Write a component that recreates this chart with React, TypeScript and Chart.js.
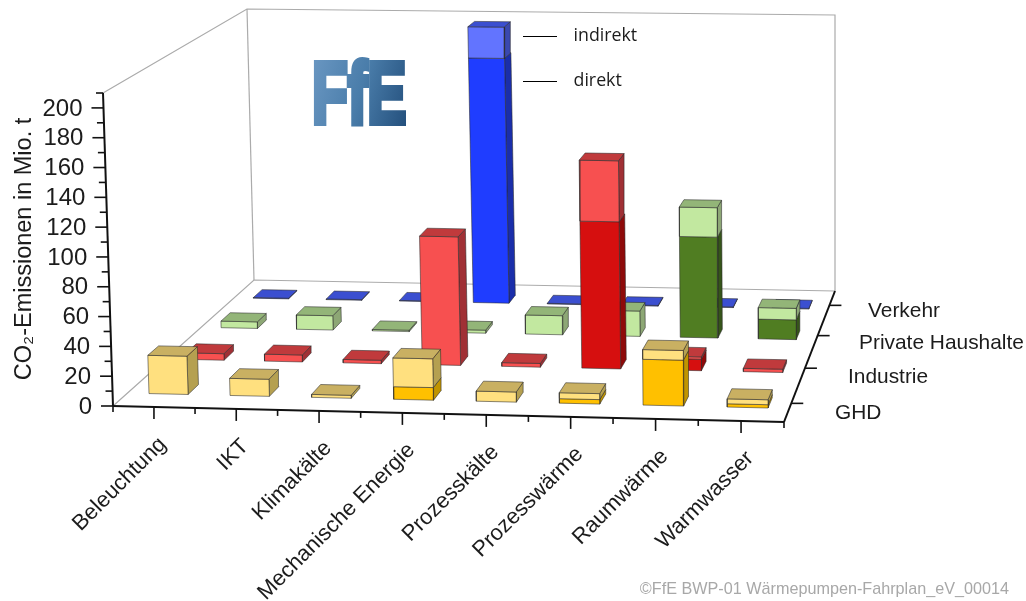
import React, { useEffect, useRef } from "react";
import { Chart, registerables } from "chart.js";

Chart.register(...registerables);

const categories = ["Beleuchtung", "IKT", "Klimakälte", "Mechanische Energie", "Prozesskälte", "Prozesswärme", "Raumwärme", "Warmwasser"];
const sectors = ["GHD", "Industrie", "Private Haushalte", "Verkehr"];
const valueTicks = [0, 20, 40, 60, 80, 100, 120, 140, 160, 180, 200];
const minorTicks = [10, 30, 50, 70, 90, 110, 130, 150, 170, 190, 210];

const ghdDirekt = [0, 0, 0, 8.5, 0, 3, 30.7, 2.2];
const ghdIndirekt = [26, 11.6, 2, 19.4, 6.8, 4, 6.5, 3.3];
const industrieDirekt = [0, 0, 0, 0, 0, 102.5, 8, 0];
const industrieIndirekt = [4.6, 4.9, 2.4, 90, 2.6, 42.5, 1.6, 2.3];
const haushalteDirekt = [0, 0, 0, 0, 0, 0, 72.7, 14.2];
const haushalteIndirekt = [4.8, 10.4, 1, 2.2, 13.8, 18.3, 21.2, 8.3];
const verkehrDirekt = [0, 0, 0, 184, 0, 0, 0, 0];
const verkehrIndirekt = [0.5, 0.5, 0.5, 23.5, 0.5, 0.5, 0.5, 0.5];

const direkt = [ghdDirekt, industrieDirekt, haushalteDirekt, verkehrDirekt];
const indirekt = [ghdIndirekt, industrieIndirekt, haushalteIndirekt, verkehrIndirekt];

const W = 1026;
const H = 601;
const UNIT = 1.4905; // canvas px per value unit on the front-left edge
const ZERO = 406;
const dv = (py: number) => (ZERO - py) / UNIT;
const YMIN = dv(H);
const YMAX = dv(0);
const AXIS_TOP = 210;

type P = { x: number; y: number };
const floorC: P[] = [{ x: 113, y: dv(406) }, { x: 784, y: dv(422) }, { x: 835, y: dv(291) }, { x: 254, y: dv(280) }];
const topC: P[] = [{ x: 103, y: dv(93) }, { x: 785, y: dv(103) }, { x: 835, y: dv(15) }, { x: 247, y: dv(9) }];

function quad(c: P[]) {
  const [p0, p1, p2, p3] = c;
  const dx1 = p1.x - p2.x, dx2 = p3.x - p2.x, sx = p0.x - p1.x + p2.x - p3.x;
  const dy1 = p1.y - p2.y, dy2 = p3.y - p2.y, sy = p0.y - p1.y + p2.y - p3.y;
  const det = dx1 * dy2 - dx2 * dy1;
  const g = (sx * dy2 - dx2 * sy) / det;
  const h = (dx1 * sy - sx * dy1) / det;
  const a = p1.x - p0.x + g * p1.x, b = p3.x - p0.x + h * p3.x;
  const d = p1.y - p0.y + g * p1.y, e = p3.y - p0.y + h * p3.y;
  return (u: number, w: number): P => {
    const q = g * u + h * w + 1;
    return { x: (a * u + b * w + p0.x) / q, y: (d * u + e * w + p0.y) / q };
  };
}
const floorMap = quad(floorC);
const topMap = quad(topC);
function project(u: number, w: number, v: number): P {
  const f = floorMap(u, w), t = topMap(u, w), k = v / AXIS_TOP;
  return { x: f.x + (t.x - f.x) * k, y: f.y + (t.y - f.y) * k };
}

const palette = [
  { direkt: "#FFC000", indirekt: "#FFE07F", top: "#C9B062", sideD: "#C09400", sideI: "#B5A050" },
  { direkt: "#D60F0F", indirekt: "#F75050", top: "#C03A3C", sideD: "#8E0A0A", sideI: "#A03035" },
  { direkt: "#507D22", indirekt: "#C2E8A0", top: "#93B578", sideD: "#36551A", sideI: "#8DA775" },
  { direkt: "#1F3DFF", indirekt: "#6274FF", top: "#3B4FD0", sideD: "#1A2EAA", sideI: "#3A48B0" },
];
const EDGE = "rgba(40,40,40,0.55)";
const HALF_U = 0.0302;
const HALF_W = 0.035;
const SHIFT_U = 0.001;

function buildDatasets() {
  const sets: any[] = [];
  const add = (pts: P[], fill: string | null, stroke: string, width: number) => {
    const closed = fill ? [...pts, pts[0]] : pts;
    sets.push({
      data: closed,
      showLine: true,
      fill: fill ? "shape" : false,
      backgroundColor: fill || "transparent",
      borderColor: stroke,
      borderWidth: width,
      pointRadius: 0,
      tension: 0,
      clip: false,
    });
  };
  // walls
  const grey = "#ababab";
  add([project(0, 0, 0), project(0, 1, 0), project(1, 1, 0)], null, grey, 1.2);
  add([project(0, 1, 0), project(0, 1, AXIS_TOP)], null, grey, 1.2);
  add([project(0, 0, AXIS_TOP), project(0, 1, AXIS_TOP), project(1, 1, AXIS_TOP), project(1, 1, 0)], null, grey, 1.2);
  // bars, far row first
  for (let s = sectors.length - 1; s >= 0; s--) {
    const col = palette[s];
    categories.forEach((_, i) => {
      const u = (i + 0.5) / categories.length + SHIFT_U;
      const w = (s + 0.5) / sectors.length;
      const u0 = u - HALF_U, u1 = u + HALF_U, w0 = w - HALF_W, w1 = w + HALF_W;
      const d = direkt[s][i], ind = indirekt[s][i];
      const seg = (a: number, b: number, face: string, side: string) => {
        add([project(u1, w0, a), project(u1, w1, a), project(u1, w1, b), project(u1, w0, b)], side, EDGE, 1);
        add([project(u0, w0, a), project(u1, w0, a), project(u1, w0, b), project(u0, w0, b)], face, EDGE, 1);
      };
      if (d > 0) seg(0, d, col.direkt, col.sideD);
      if (ind > 0) seg(d, d + ind, col.indirekt, col.sideI);
      const t = d + ind;
      add([project(u0, w0, t), project(u1, w0, t), project(u1, w1, t), project(u0, w1, t)], col.top, EDGE, 1);
    });
  }
  sets.forEach((ds, n) => { ds.order = sets.length - n; });
  return sets;
}

const SANS = '"Liberation Sans", Arial, sans-serif';
const INK = "#1c1c1c";

const decor = {
  id: "decor",
  afterDraw(chart: any) {
    const { ctx, scales } = chart;
    const px = (p: P) => ({ x: scales.x.getPixelForValue(p.x), y: scales.y.getPixelForValue(p.y) });
    const line = (a: { x: number; y: number }, b: { x: number; y: number }, w: number, c = "#111") => {
      ctx.beginPath();
      ctx.moveTo(a.x, a.y);
      ctx.lineTo(b.x, b.y);
      ctx.lineWidth = w;
      ctx.strokeStyle = c;
      ctx.stroke();
    };
    ctx.save();
    // black axes
    line(px(project(0, 0, 0)), px(project(0, 0, AXIS_TOP)), 2);
    line(px(project(0, 0, 0)), px(project(1, 0, 0)), 2);
    line(px(project(1, 0, 0)), px(project(1, 1, 0)), 2);

    // value axis
    ctx.fillStyle = INK;
    ctx.font = "24px " + SANS;
    ctx.textAlign = "right";
    ctx.textBaseline = "middle";
    valueTicks.forEach((v) => {
      const p = px(project(0, 0, v));
      line({ x: p.x - 12, y: p.y }, p, 1.6);
      ctx.fillText(String(v), p.x - 21, p.y + 1);
    });
    minorTicks.forEach((v) => {
      const p = px(project(0, 0, v));
      line({ x: p.x - 7, y: p.y }, p, 1.6);
    });
    ctx.save();
    ctx.translate(25, 249);
    ctx.rotate(-Math.PI / 2);
    ctx.textAlign = "center";
    ctx.font = "23.5px " + SANS;
    ctx.fillText("CO₂-Emissionen in Mio. t", 0, 0);
    ctx.restore();

    // category axis
    const n = categories.length * 2;
    for (let k = 0; k <= n; k++) {
      const p = px(project(k / n, 0, 0));
      line(p, { x: p.x, y: p.y + (k % 2 ? 12 : 6) }, 1.6);
    }
    ctx.font = "22px " + SANS;
    ctx.fillStyle = INK;
    categories.forEach((c, i) => {
      const p = px(project((i + 0.5) / categories.length, 0, 0));
      ctx.save();
      ctx.translate(p.x + 9, p.y + 34);
      ctx.rotate(-Math.PI / 4);
      ctx.textAlign = "right";
      ctx.textBaseline = "middle";
      ctx.fillText(c, 0, 0);
      ctx.restore();
    });

    // depth axis
    const labelLeft = [835, 848, 859, 868];
    const labelMid = [413.5, 377, 343.5, 311];
    ctx.font = "20.9px " + SANS;
    ctx.textAlign = "left";
    sectors.forEach((s, j) => {
      const p = px(project(1, (j + 0.5) / sectors.length, 0));
      line(p, { x: p.x + 12, y: p.y }, 1.6);
      ctx.fillText(s, labelLeft[j], labelMid[j]);
    });

    // annotation
    line({ x: 523, y: 36.5 }, { x: 557, y: 36.5 }, 1, "#000");
    line({ x: 523, y: 81.5 }, { x: 557, y: 81.5 }, 1, "#000");
    ctx.font = '17.8px "Open Sans", sans-serif';
    ctx.fillText("indirekt", 573.5, 36);
    ctx.fillText("direkt", 573.5, 81);

    // logo
    ctx.save();
    ctx.translate(312, 123);
    ctx.scale(0.665, 1);
    const g = ctx.createLinearGradient(0, -66, 145, 0);
    g.addColorStop(0, "#6a97c2");
    g.addColorStop(0.5, "#4a7daa");
    g.addColorStop(1, "#234f7c");
    ctx.font = "bold 88px " + SANS;
    ctx.textAlign = "left";
    ctx.textBaseline = "alphabetic";
    ctx.fillStyle = g;
    ctx.strokeStyle = g;
    ctx.lineWidth = 6;
    ctx.fillText("FfE", 0, 0);
    ctx.strokeText("FfE", 0, 0);
    ctx.restore();

    // source
    ctx.fillStyle = "#a8a8a8";
    ctx.font = "16.2px " + SANS;
    ctx.textAlign = "right";
    ctx.textBaseline = "middle";
    ctx.fillText("©FfE BWP-01 Wärmepumpen-Fahrplan_eV_00014", 1009, 590);
    ctx.restore();
  },
};

export default function App() {
  const ref = useRef<HTMLCanvasElement>(null);
  useEffect(() => {
    const chart = new Chart(ref.current!, {
      type: "scatter",
      data: { datasets: buildDatasets() },
      options: {
        animation: false,
        responsive: false,
        events: [],
        layout: { padding: 0 },
        plugins: { legend: { display: false }, tooltip: { enabled: false }, title: { display: false } },
        scales: {
          x: { type: "linear", min: 0, max: W, display: false },
          y: { type: "linear", min: YMIN, max: YMAX, display: false },
        },
      },
      plugins: [decor],
    } as any);
    return () => chart.destroy();
  }, []);
  return (
    <div style={{ position: "absolute", left: 0, top: 0, width: W, height: H, background: "#fff" }}>
      <canvas ref={ref} width={W} height={H} style={{ display: "block" }} />
    </div>
  );
}
